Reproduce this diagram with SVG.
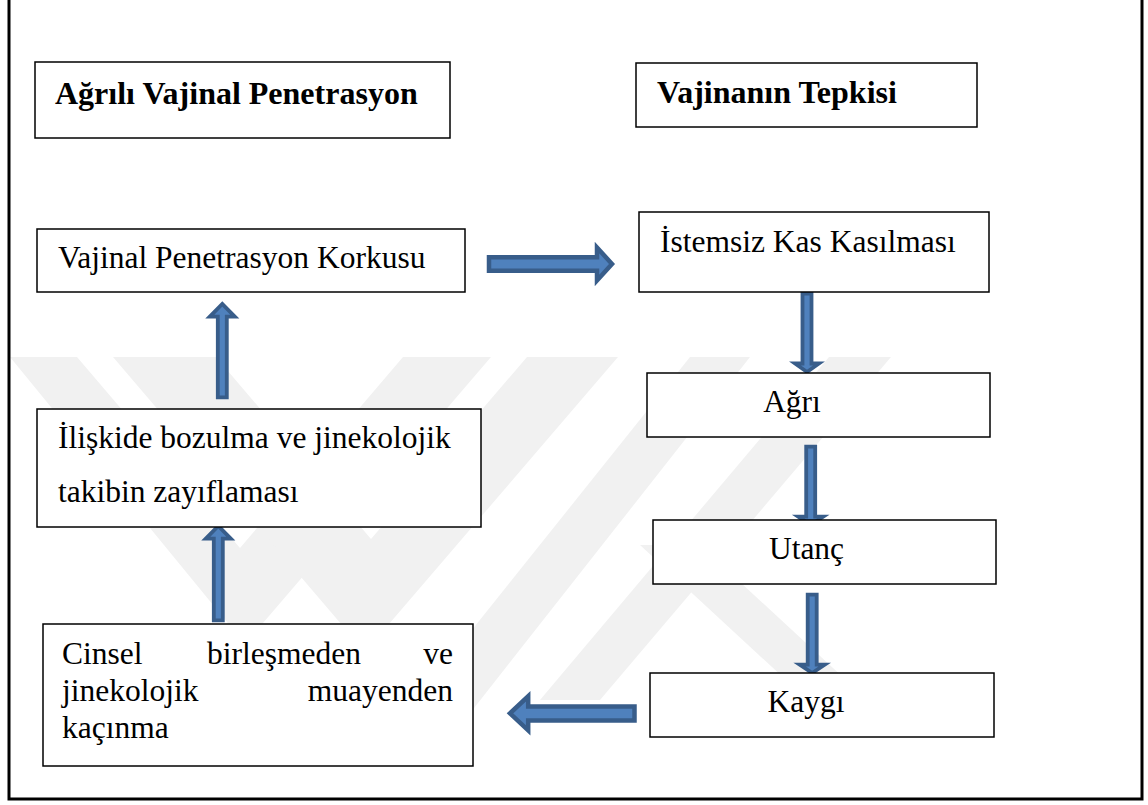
<svg xmlns="http://www.w3.org/2000/svg" width="1148" height="805" viewBox="0 0 1148 805">
<style>
.box{fill:#fff;stroke:#000;stroke-width:1.5}
.t{font-family:"Liberation Serif","Times New Roman",serif;font-size:31.5px;fill:#000}
.b{font-weight:bold;font-size:32px}
.arr{fill:#4F81BD;stroke:#385D8A;stroke-width:4.5;stroke-linejoin:miter}
.arrv{fill:#4F81BD;stroke:#385D8A;stroke-width:3.8;stroke-linejoin:miter}
.wm{fill:#f1f1f1}
</style>
<rect x="0" y="0" width="1148" height="805" fill="#fff"/>
<g id="watermark">
<polygon class="wm" points="10,357 245,644 491,357 403,357 240,548 77,357"/>
<polygon class="wm" points="113,357 365,652 618,357 527,357 371,539 216,357"/>
<polygon class="wm" points="690,357 750,357 445,745 380,745"/>
<polygon class="wm" points="829,357 891,357 600,700 540,700"/>
<polygon class="wm" points="640,545 700,545 900,730 840,730"/>
</g>
<path d="M9,0 V799 H1142 V0" fill="none" stroke="#000" stroke-width="3"/>
<g id="connectors">
<polygon class="arr" points="489,257.3 597,257.3 597,247.5 612,264 597,280.5 597,270.7 489,270.7"/>
<polygon class="arrv" points="802.5,293.5 811.5,293.5 811.5,363.5 819,363.5 807,372 795,363.5 802.5,363.5"/>
<polygon class="arrv" points="806.2,446.7 815.2,446.7 815.2,516.7 823.2,516.7 810.7,525 798.2,516.7 806.2,516.7"/>
<polygon class="arrv" points="807.7,594.7 816.7,594.7 816.7,664.7 824.7,664.7 812.2,673 799.7,664.7 807.7,664.7"/>
<polygon class="arrv" points="217.8,397.3 226.8,397.3 226.8,316.7 234.8,316.7 222.3,304 209.8,316.7 217.8,316.7"/>
<polygon class="arrv" points="213.8,620.3 222.8,620.3 222.8,538.7 230.8,538.7 218.3,526 205.8,538.7 213.8,538.7"/>
<polygon class="arr" points="634.5,706.5 528.2,706.5 528.2,696.3 510,713.3 528.2,730.3 528.2,720.5 634.5,720.5"/>
</g>
<g id="n-agrili">
<rect class="box" x="35" y="62" width="415" height="76"/>
<text class="t b" x="55" y="104">Ağrılı Vajinal Penetrasyon</text>
</g>
<g id="n-tepki">
<rect class="box" x="636" y="63" width="341" height="64"/>
<text class="t b" x="657" y="103">Vajinanın Tepkisi</text>
</g>
<g id="n-korku">
<rect class="box" x="37" y="229" width="428" height="63"/>
<text class="t" x="58" y="268" font-size="32">Vajinal Penetrasyon Korkusu</text>
</g>
<g id="n-kasilma">
<rect class="box" x="639" y="212" width="350" height="80"/>
<text class="t" x="660" y="252" font-size="30.8">İstemsiz Kas Kasılması</text>
</g>
<g id="n-agri">
<rect class="box" x="647" y="373" width="343" height="64"/>
<text class="t" x="792" y="412" text-anchor="middle">Ağrı</text>
</g>
<g id="n-iliski">
<rect class="box" x="37" y="409" width="444" height="118"/>
<text class="t" x="58" y="448" font-size="32.3">İlişkide bozulma ve jinekolojik</text>
<text class="t" x="58" y="502" font-size="32.3">takibin zayıflaması</text>
</g>
<g id="n-utanc">
<rect class="box" x="653" y="520" width="343" height="64"/>
<text class="t" x="806.5" y="559" text-anchor="middle">Utanç</text>
</g>
<g id="n-kaygi">
<rect class="box" x="650" y="673" width="344" height="64"/>
<text class="t" x="806" y="712" text-anchor="middle">Kaygı</text>
</g>
<g id="n-cinsel">
<rect class="box" x="43" y="624" width="430" height="142"/>
<text class="t" x="62" y="664">Cinsel</text>
<text class="t" x="207" y="664">birleşmeden</text>
<text class="t" x="453" y="664" text-anchor="end">ve</text>
<text class="t" x="62" y="701">jinekolojik</text>
<text class="t" x="453" y="701" text-anchor="end">muayenden</text>
<text class="t" x="62" y="738">kaçınma</text>
</g>
</svg>
